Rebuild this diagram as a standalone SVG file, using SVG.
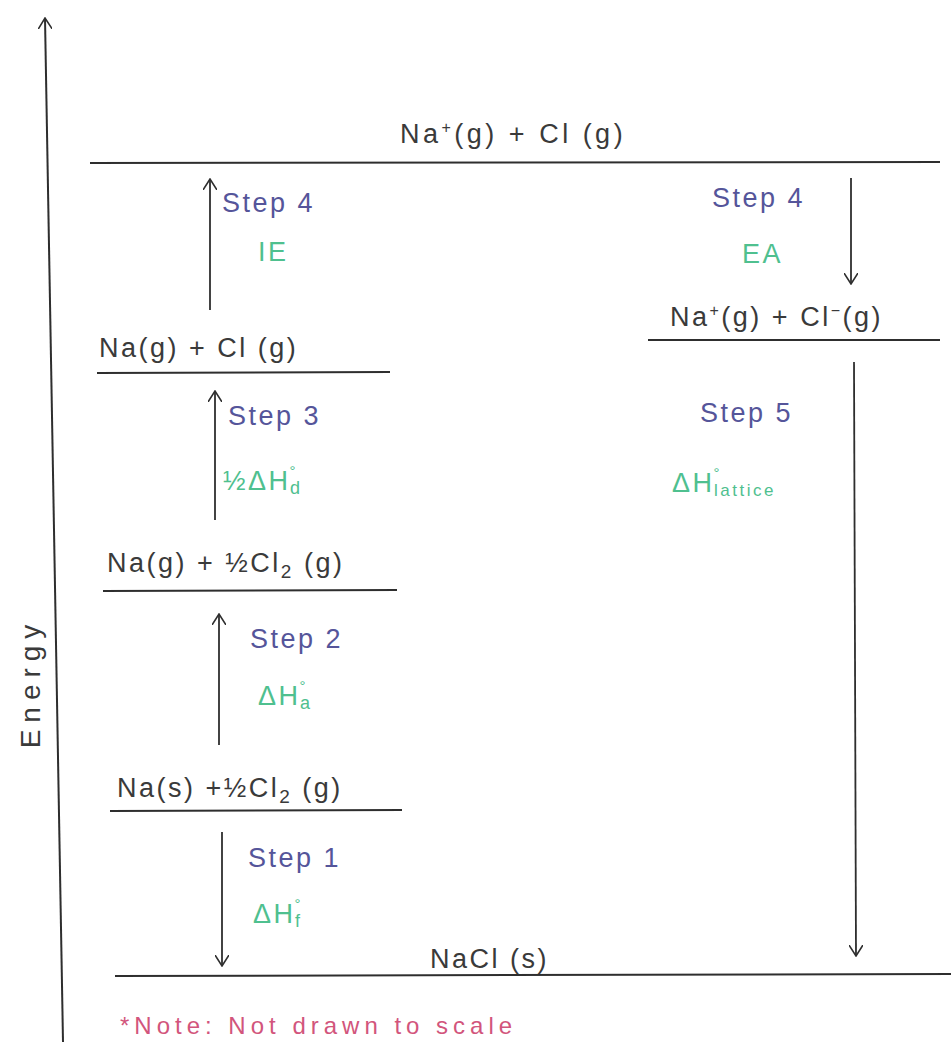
<svg xmlns="http://www.w3.org/2000/svg" width="951" height="1044" viewBox="0 0 951 1044">
<defs>
<style>
.ln{stroke:#2e2e2e;stroke-width:2;fill:none}
.ar{stroke:#2e2e2e;stroke-width:1.8;fill:none}
.lbl{font-family:"Liberation Sans",Arial,sans-serif;font-size:27px;letter-spacing:2.5px;fill:#3a3a3a}
.step{font-family:"Liberation Sans",Arial,sans-serif;font-size:27px;letter-spacing:2.5px;fill:#55559a}
.grn{font-family:"Liberation Sans",Arial,sans-serif;font-size:27px;letter-spacing:2.5px;fill:#4fc08f}
.note{font-family:"Liberation Sans",Arial,sans-serif;font-size:24px;letter-spacing:5px;fill:#d2557c}
</style>
<marker id="ah" viewBox="0 0 12 14" refX="11" refY="7" markerWidth="12" markerHeight="14" markerUnits="userSpaceOnUse" orient="auto">
<path d="M0,0 L11,7 L0,14" fill="none" stroke="#2e2e2e" stroke-width="1.6"/>
</marker>
</defs>
<rect width="951" height="1044" fill="#ffffff"/>

<g id="axis">
<line class="ln" x1="63" y1="1042" x2="45" y2="18" marker-end="url(#ah)"/>
<text class="lbl" transform="translate(40,683) rotate(-90)" text-anchor="middle" style="font-size:28px;letter-spacing:7px">Energy</text>
</g>

<g id="level-top">
<line class="ln" x1="90" y1="163" x2="940" y2="162"/>
<text class="lbl" x="400" y="143" style="letter-spacing:3.5px">Na<tspan dy="-10" font-size="16">+</tspan><tspan dy="10">(g) + Cl (g)</tspan></text>
</g>

<g id="level-nag-clg">
<line class="ln" x1="97" y1="373" x2="390" y2="372"/>
<text class="lbl" x="99" y="357">Na(g) + Cl (g)</text>
</g>

<g id="level-nag-halfcl2">
<line class="ln" x1="103" y1="591" x2="397" y2="590"/>
<text class="lbl" x="107" y="572">Na(g) + ½Cl<tspan font-size="19" dy="6">2</tspan><tspan dy="-6"> (g)</tspan></text>
</g>

<g id="level-nas-halfcl2">
<line class="ln" x1="110" y1="811" x2="402" y2="810"/>
<text class="lbl" x="117" y="797">Na(s) +½Cl<tspan font-size="19" dy="6">2</tspan><tspan dy="-6"> (g)</tspan></text>
</g>

<g id="level-nacl">
<line class="ln" x1="115" y1="976" x2="951" y2="974"/>
<text class="lbl" x="430" y="968">NaCl (s)</text>
</g>

<g id="level-ions">
<line class="ln" x1="648" y1="340" x2="940" y2="340"/>
<text class="lbl" x="670" y="326">Na<tspan dy="-10" font-size="16">+</tspan><tspan dy="10">(g) + Cl</tspan><tspan dy="-10" font-size="16">−</tspan><tspan dy="10">(g)</tspan></text>
</g>

<g id="connectors">
<line class="ar" x1="210" y1="310" x2="210" y2="179" marker-end="url(#ah)"/>
<line class="ar" x1="215" y1="520" x2="215" y2="391" marker-end="url(#ah)"/>
<line class="ar" x1="219" y1="745" x2="219" y2="614" marker-end="url(#ah)"/>
<line class="ar" x1="222" y1="832" x2="222" y2="966" marker-end="url(#ah)"/>
<line class="ar" x1="851" y1="178" x2="851" y2="284" marker-end="url(#ah)"/>
<line class="ar" x1="854" y1="362" x2="856" y2="956" marker-end="url(#ah)"/>
</g>

<g id="step4-ie">
<text class="step" x="222" y="212">Step 4</text>
<text class="grn" x="258" y="261">IE</text>
</g>

<g id="step3">
<text class="step" x="228" y="425">Step 3</text>
<text class="grn" x="223" y="490">½ΔH<tspan font-size="15" dy="-14" dx="-1">°</tspan><tspan font-size="18" dy="18" dx="-8">d</tspan></text>
</g>

<g id="step2">
<text class="step" x="250" y="648">Step 2</text>
<text class="grn" x="258" y="705">ΔH<tspan font-size="15" dy="-14" dx="-1">°</tspan><tspan font-size="18" dy="18" dx="-8">a</tspan></text>
</g>

<g id="step1">
<text class="step" x="248" y="867">Step 1</text>
<text class="grn" x="253" y="923">ΔH<tspan font-size="15" dy="-14" dx="-1">°</tspan><tspan font-size="18" dy="18" dx="-8">f</tspan></text>
</g>

<g id="step4-ea">
<text class="step" x="712" y="207">Step 4</text>
<text class="grn" x="742" y="263">EA</text>
</g>

<g id="step5">
<text class="step" x="700" y="422">Step 5</text>
<text class="grn" x="672" y="492">ΔH<tspan font-size="15" dy="-14" dx="-1">°</tspan><tspan font-size="17" dy="18" dx="-8">lattice</tspan></text>
</g>

<g id="note">
<text class="note" x="120" y="1034">*Note: Not drawn to scale</text>
</g>
</svg>
